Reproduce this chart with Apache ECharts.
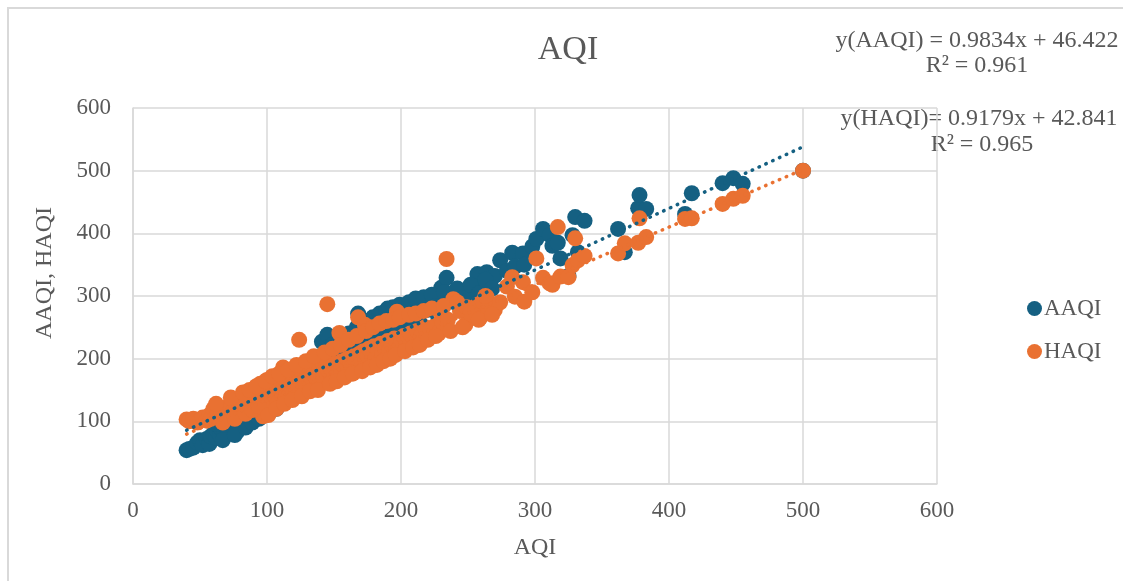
<!DOCTYPE html>
<html>
<head>
<meta charset="utf-8">
<script src="https://cdn.jsdelivr.net/npm/echarts@6/dist/echarts.min.js"></script>
<style>
  html, body { margin: 0; padding: 0; background: #fff; }
  #main { width: 1123px; height: 581px; }
</style>
</head>
<body>
<div id="main"></div>
<script>
// AQI values (x), with the matching AAQI and HAQI readings (y)
var aqi = [
  40, 42, 45, 48, 50, 52, 55, 57, 58, 60, 62, 63, 65, 66, 68, 70, 71, 72, 74, 75,
  77, 78, 80, 81, 83, 85, 86, 88, 90, 91, 93, 95, 96, 97, 98, 100, 100, 102, 103, 105,
  106, 108, 110, 111, 112, 114, 115, 117, 118, 120, 121, 123, 124, 125, 127, 128, 130, 131, 133, 134,
  136, 137, 139, 140, 141, 142, 144, 145, 146, 148, 150, 151, 153, 154, 156, 157, 159, 160, 162, 163,
  165, 166, 168, 169, 170, 172, 173, 175, 176, 178, 180, 181, 183, 185, 186, 188, 190, 191, 193, 195,
  197, 198, 200, 202, 204, 205, 207, 210, 212, 215, 218, 219, 222, 225, 228, 230, 231, 234, 235, 239,
  244, 248, 249, 255, 257, 259, 261, 264, 265, 270, 274, 279, 283, 285, 291, 292, 298, 301, 306, 311,
  313, 317, 319, 325, 328, 330, 332, 337, 362, 367, 377, 378, 383, 412, 417, 440, 448, 455, 500,
  62, 67, 73, 76, 82, 84, 87, 89, 92, 94, 99, 101, 104, 107, 109, 113, 116, 119, 122, 126,
  129, 132, 135, 138, 143, 147, 149, 152, 155, 158, 161, 164, 167, 171, 174, 177, 179, 182, 184, 187,
  189, 192, 194, 196, 199, 203, 206, 209, 211, 214, 217, 220, 223, 226, 232, 237, 242, 246, 252, 258,
  263, 268
];
var aaqi = [
  54, 56, 58, 66, 70, 62, 72, 64, 76, 80, 74, 84, 78, 88, 82, 92, 86, 80, 96, 90,
  100, 84, 104, 92, 108, 98, 112, 104, 116, 108, 120, 112, 124, 118, 128, 120, 132, 126, 136, 130,
  140, 134, 146, 138, 150, 142, 154, 148, 160, 152, 164, 158, 170, 162, 174, 166, 178, 170, 184, 176,
  188, 180, 194, 186, 227, 198, 190, 238, 204, 196, 210, 200, 216, 206, 220, 212, 226, 216, 230, 222,
  236, 226, 272, 240, 232, 244, 236, 250, 240, 254, 246, 258, 250, 262, 254, 266, 280, 258, 270, 262,
  274, 266, 278, 270, 286, 274, 282, 276, 290, 280, 290, 288, 284, 292, 286, 313, 311, 329, 300, 298,
  305, 300, 301, 296, 335, 310, 316, 338, 322, 332, 357, 340, 369, 347, 368, 350, 379, 391, 407, 397,
  380, 385, 360, 332, 397, 426, 370, 420, 407, 370, 440, 461, 439, 431, 464, 480, 488, 479, 500,
  96, 70, 104, 78, 116, 90, 122, 98, 128, 104, 136, 112, 146, 120, 154, 130, 162, 140, 172, 148,
  184, 158, 196, 166, 210, 176, 222, 186, 232, 196, 240, 204, 250, 214, 260, 222, 266, 230, 272, 238,
  276, 244, 282, 250, 286, 258, 290, 264, 296, 272, 298, 278, 302, 284, 306, 292, 312, 296, 318, 304,
  326, 312
];
var haqi = [
  103, 100, 104, 98, 102, 106, 101, 110, 104, 120, 108, 112, 106, 118, 110, 122, 114, 126, 112, 118,
  124, 116, 130, 120, 126, 134, 122, 130, 138, 126, 134, 160, 140, 108, 132, 146, 166, 138, 120, 150,
  142, 130, 156, 148, 186, 140, 160, 152, 146, 166, 158, 150, 230, 170, 162, 156, 176, 168, 160, 180,
  172, 166, 184, 176, 196, 170, 188, 287, 180, 174, 192, 184, 178, 241, 196, 188, 182, 200, 194, 186,
  204, 198, 266, 208, 192, 212, 254, 204, 216, 210, 220, 200, 214, 224, 208, 218, 228, 212, 222, 232,
  275, 216, 226, 236, 220, 230, 240, 226, 244, 236, 250, 232, 246, 252, 240, 262, 256, 359, 262, 295,
  276, 254, 282, 268, 286, 265, 291, 298, 282, 278, 290, 315, 330, 299, 322, 291, 306, 360, 329, 320,
  318, 410, 331, 330, 349, 392, 357, 364, 368, 384, 385, 424, 394, 423, 424, 447, 455, 460, 500,
  128, 98, 138, 104, 146, 112, 150, 118, 156, 124, 164, 110, 172, 120, 176, 128, 182, 134, 190, 140,
  196, 148, 204, 150, 210, 160, 216, 164, 222, 170, 230, 176, 236, 180, 244, 186, 250, 190, 256, 196,
  260, 200, 262, 206, 266, 212, 270, 218, 272, 222, 276, 230, 280, 236, 284, 244, 290, 250, 272, 262,
  300, 270
];

// trendline ends as shown on the chart
var trendX = [40, 500];
var aaqiTrend = [85.8, 538.1];
var haqiTrend = [79.6, 501.8];

var seriesNames = ['AAQI', 'HAQI'];
var equations = [
  ['y(AAQI) = 0.9834x + 46.422', 'R² = 0.961'],
  ['y(HAQI)= 0.9179x + 42.841', 'R² = 0.965']
];

var blue = '#156082';
var orange = '#E97132';
var textColor = '#595959';
var gridColor = '#d9d9d9';
var font = '"Liberation Serif", "Times New Roman", serif';

function pairs(xs, ys) {
  var out = [];
  for (var i = 0; i < xs.length; i++) out.push([xs[i], ys[i]]);
  return out;
}

var chart = echarts.init(document.getElementById('main'), null, {renderer: 'canvas'});

var axisCommon = {
  type: 'value',
  min: 0,
  max: 600,
  interval: 100,
  axisLine: {show: true, lineStyle: {color: gridColor, width: 1.5}},
  axisTick: {show: false},
  splitLine: {show: true, lineStyle: {color: gridColor, width: 1.5}},
  nameTextStyle: {fontFamily: font, fontSize: 24, color: textColor},
  nameLocation: 'middle'
};

function label(text, x, y, size, rot) {
  return {
    type: 'text', x: x, y: y, rotation: rot || 0,
    style: {text: text, fontFamily: font, fontSize: size, fill: textColor,
            textAlign: 'center', textVerticalAlign: 'middle'}
  };
}

chart.setOption({
  backgroundColor: '#fff',
  animation: false,
  textStyle: {fontFamily: font},
  grid: {left: 133, right: 186, top: 108, bottom: 97, containLabel: false},
  legend: {
    data: seriesNames,
    orient: 'vertical',
    left: 1022,
    top: 292,
    icon: 'circle',
    itemWidth: 15,
    itemHeight: 15,
    itemGap: 20,
    textStyle: {fontFamily: font, fontSize: 23, color: textColor, padding: [0, 0, 0, -3]}
  },
  xAxis: Object.assign({}, axisCommon, {
    name: 'AQI',
    nameGap: 52,
    axisLabel: {fontFamily: font, fontSize: 23, color: textColor, margin: 15}
  }),
  yAxis: Object.assign({}, axisCommon, {
    axisLabel: {fontFamily: font, fontSize: 23, color: textColor, margin: 22}
  }),
  graphic: [
    {
      type: 'rect', silent: true, z: -10,
      shape: {x: 8, y: 8, width: 1300, height: 800},
      style: {fill: 'none', stroke: gridColor, lineWidth: 2}
    },
    label('AQI', 568, 50, 34),
    label('AAQI, HAQI', 45, 273, 24, Math.PI / 2),
    label(equations[0][0], 977, 41, 24),
    label(equations[0][1], 977, 66, 24),
    label(equations[1][0], 979, 119, 24),
    label(equations[1][1], 982, 145, 24)
  ],
  series: [
    {
      name: 'AAQI', type: 'scatter', symbolSize: 16, z: 2,
      itemStyle: {color: blue, opacity: 1},
      data: pairs(aqi, aaqi)
    },
    {
      name: 'HAQI', type: 'scatter', symbolSize: 16, z: 3,
      itemStyle: {color: orange, opacity: 1},
      data: pairs(aqi, haqi)
    },
    {
      name: 'AAQI trend', type: 'line', z: 5, showSymbol: false, silent: true,
      lineStyle: {color: blue, width: 3.5, type: [0.5, 7], cap: 'round'},
      data: pairs(trendX, aaqiTrend)
    },
    {
      name: 'HAQI trend', type: 'line', z: 5, showSymbol: false, silent: true,
      lineStyle: {color: orange, width: 3.5, type: [0.5, 7], cap: 'round'},
      data: pairs(trendX, haqiTrend)
    }
  ]
});
</script>
</body>
</html>
